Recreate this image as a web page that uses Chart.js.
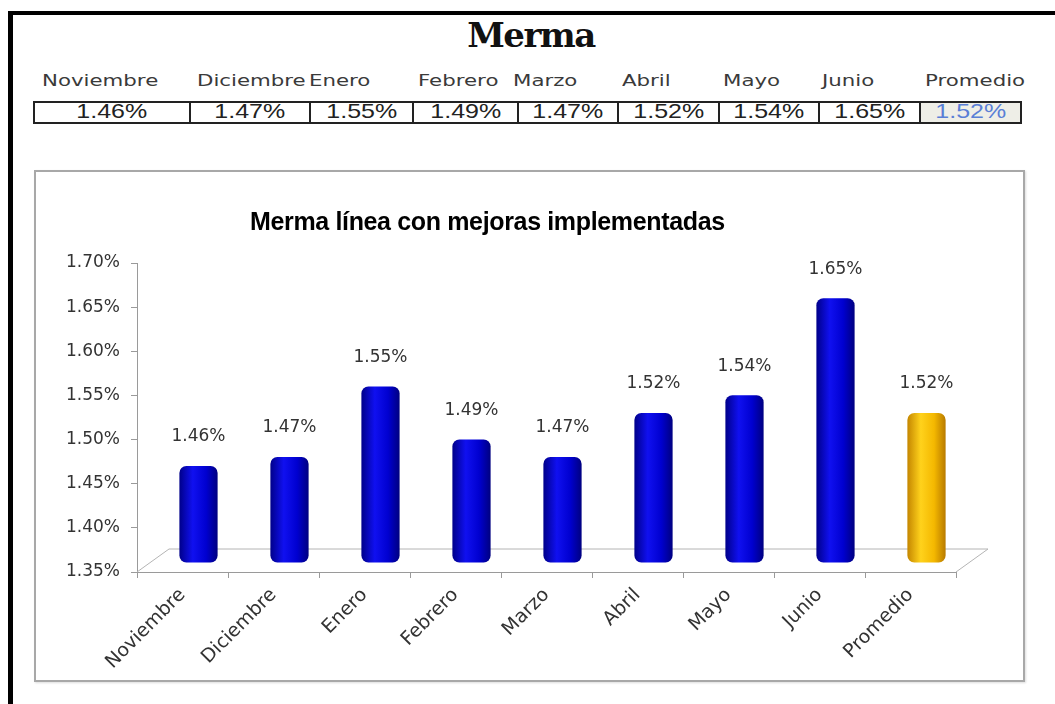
<!DOCTYPE html>
<html>
<head>
<meta charset="utf-8">
<script src="https://cdn.jsdelivr.net/npm/chart.js@4.4.1/dist/chart.umd.min.js"></script>
<style>
    html, body { margin: 0; padding: 0; background: #fff; width: 1055px; height: 704px; overflow: hidden; }
    .marco { position: absolute; left: 8px; top: 11px; width: 1100px; height: 800px; border-left: 5px solid #000; border-top: 4.5px solid #000; }
    .titulo { position: absolute; left: 0; width: 1062px; top: 18px; text-align: center; font: bold 34px/34px "DejaVu Serif"; letter-spacing: -1.5px; color: #111; }
    .encabezado { position: absolute; top: 74px; font: 15px/15px "DejaVu Sans"; color: #3a3a3a; transform: scaleX(1.42); transform-origin: left center; white-space: nowrap; }
    .celda { position: absolute; top: 101px; height: 23px; box-sizing: border-box; border: 2px solid #222; text-align: center; font: 21px/20px "Liberation Sans"; color: #222; }
    .celda span { display: inline-block; transform: scaleX(1.19); position: relative; top: -2px; }
    .celda.prom { background: #eeeee7; color: #5a7fd6; }
    .caja { position: absolute; left: 34px; top: 170px; width: 991px; height: 512px; box-sizing: border-box; border: 2px solid #a8a8a8; box-shadow: 1px 1px 2px #ddd; }
    .caja canvas { position: absolute; left: 0; top: 0; }
    .subtitulo { position: absolute; left: 250px; top: 209px; font: bold 25px/25px "Liberation Sans"; letter-spacing: -0.35px; color: #000; white-space: nowrap; }
</style>
</head>
<body>
<div class="marco"></div>
<div class="titulo">Merma</div>
<div id="tabla"></div>
<div class="caja"><canvas id="grafico" width="987" height="508"></canvas></div>
<div class="subtitulo">Merma línea con mejoras implementadas</div>

<script>
    // Datos
    const categorias = ['Noviembre', 'Diciembre', 'Enero', 'Febrero', 'Marzo', 'Abril', 'Mayo', 'Junio', 'Promedio'];
    const merma = [1.46, 1.47, 1.55, 1.49, 1.47, 1.52, 1.54, 1.65, 1.52];
    const ticksY = [1.35, 1.40, 1.45, 1.50, 1.55, 1.60, 1.65, 1.70];

    // Posiciones de la tabla de arriba (bordes de columna y texto de encabezado)
    const bordesTabla = [33, 189, 309, 412, 517, 617, 718, 818, 919, 1020];
    const xEncabezado = [42, 197, 309, 418, 513, 622, 723, 822, 925];

    const fmt = v => v.toFixed(2) + '%';

    // Armar la tabla con encabezados y valores
    const tabla = document.getElementById('tabla');
    categorias.forEach((cat, i) => {
        const h = document.createElement('div');
        h.className = 'encabezado';
        h.style.left = xEncabezado[i] + 'px';
        h.textContent = cat;
        tabla.appendChild(h);

        const c = document.createElement('div');
        c.className = 'celda' + (cat === 'Promedio' ? ' prom' : '');
        c.style.left = bordesTabla[i] + 'px';
        c.style.width = (bordesTabla[i + 1] - bordesTabla[i] + 2) + 'px';
        const s = document.createElement('span');
        s.textContent = fmt(merma[i]);
        c.appendChild(s);
        tabla.appendChild(c);
    });

    // Efecto 3D: profundidad del piso
    const PROF_X = 32, PROF_Y = 23;
    const ANCHO_BARRA = 0.42;

    // Relleno tipo cilindro (gradiente horizontal)
    function relleno(ctx) {
        const chart = ctx.chart;
        const esProm = categorias[ctx.dataIndex] === 'Promedio';
        const base = esProm ? '#f0b400' : '#0000d8';
        if (!chart.chartArea || ctx.type !== 'data') return base;
        const xs = chart.scales.x;
        const cx = xs.getPixelForValue(ctx.dataIndex);
        const w = xs.width / categorias.length * ANCHO_BARRA;
        const g = chart.ctx.createLinearGradient(cx - w / 2, 0, cx + w / 2, 0);
        if (esProm) {
            g.addColorStop(0, '#c48600');
            g.addColorStop(0.35, '#ffd21c');
            g.addColorStop(0.7, '#f4b800');
            g.addColorStop(1, '#b87a00');
        } else {
            g.addColorStop(0, '#00008a');
            g.addColorStop(0.35, '#1010f0');
            g.addColorStop(0.7, '#0000d0');
            g.addColorStop(1, '#000080');
        }
        return g;
    }

    const pisoYEtiquetas = {
        id: 'pisoYEtiquetas',
        beforeDatasetsDraw(chart) {
            const { ctx, chartArea: a } = chart;
            ctx.save();
            ctx.strokeStyle = '#b4b4b4';
            ctx.lineWidth = 1;
            ctx.beginPath();
            ctx.moveTo(a.left, a.bottom);
            ctx.lineTo(a.left + PROF_X, a.bottom - PROF_Y);
            ctx.lineTo(a.right + PROF_X, a.bottom - PROF_Y);
            ctx.lineTo(a.right, a.bottom);
            ctx.stroke();
            ctx.restore();
            // barras al medio del piso
            ctx.save();
            ctx.translate(PROF_X / 2, -9);
        },
        afterDatasetsDraw(chart) {
            const ctx = chart.ctx;
            const meta = chart.getDatasetMeta(0);
            ctx.font = '17px "DejaVu Sans"';
            ctx.fillStyle = '#333';
            ctx.textAlign = 'center';
            ctx.textBaseline = 'middle';
            meta.data.forEach((bar, i) => {
                ctx.fillText(fmt(merma[i]), bar.x, bar.y - 29);
            });
            ctx.restore();
        }
    };

    new Chart(document.getElementById('grafico'), {
        type: 'bar',
        data: {
            labels: categorias,
            datasets: [{
                data: merma,
                base: ticksY[0],
                backgroundColor: relleno,
                borderWidth: 0,
                borderRadius: 7,
                borderSkipped: false,
                barPercentage: ANCHO_BARRA,
                categoryPercentage: 1,
                clip: false
            }]
        },
        options: {
            responsive: false,
            animation: false,
            layout: { padding: { left: 0, right: 67, top: 91, bottom: 8 } },
            plugins: {
                legend: { display: false },
                tooltip: { enabled: false },
                title: { display: false }
            },
            scales: {
                y: {
                    min: ticksY[0],
                    max: ticksY[ticksY.length - 1],
                    afterBuildTicks: s => { s.ticks = ticksY.map(v => ({ value: v })); },
                    afterFit: s => { s.width = 101; },
                    border: { display: true, color: '#9a9a9a', width: 1 },
                    grid: { drawOnChartArea: false, drawTicks: true, tickLength: 6, color: '#9a9a9a' },
                    ticks: {
                        padding: 11,
                        color: '#333',
                        font: { family: 'DejaVu Sans', size: 17 },
                        callback: v => fmt(v)
                    }
                },
                x: {
                    afterFit: s => { s.height = 100; },
                    border: { display: true, color: '#9a9a9a', width: 1 },
                    grid: { drawOnChartArea: false, tickLength: 6, color: '#9a9a9a', offset: true },
                    ticks: {
                        minRotation: 45,
                        maxRotation: 45,
                        padding: 6,
                        color: '#333',
                        font: { family: 'DejaVu Sans', size: 19 }
                    }
                }
            }
        },
        plugins: [pisoYEtiquetas]
    });
</script>
</body>
</html>
